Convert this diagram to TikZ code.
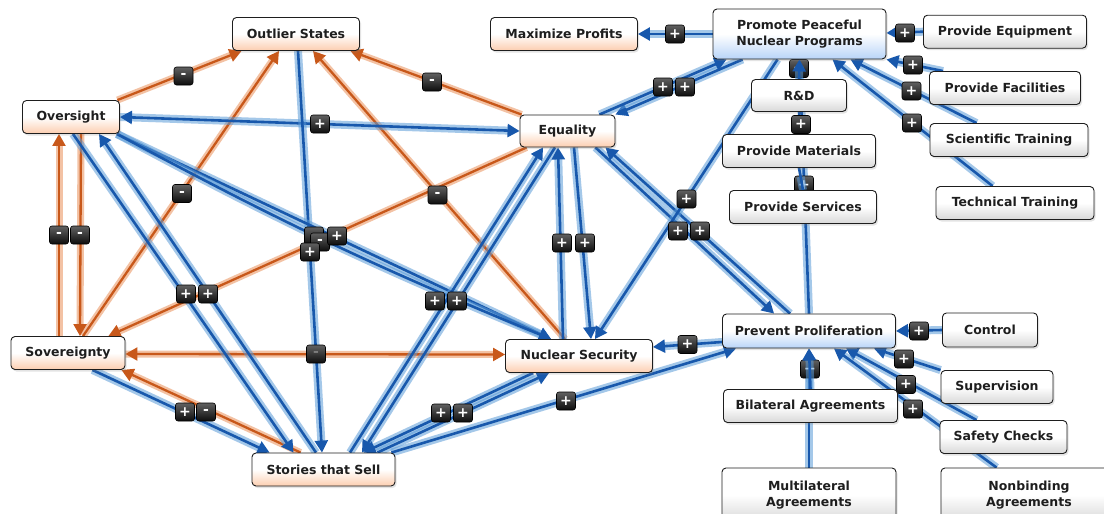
\documentclass[tikz,border=0pt]{standalone}
\usepackage{fontspec}
\setmainfont{DejaVu Sans}
\usetikzlibrary{arrows.meta,shadows,calc}
\pgfdeclarelayer{bg}
\pgfdeclarelayer{edges}
\pgfdeclarelayer{tags}
\pgfdeclarelayer{over}
\pgfsetlayers{bg,edges,tags,over,main}

\definecolor{linkblue}{RGB}{24,88,172}
\definecolor{haloblue}{RGB}{91,155,216}
\definecolor{linkorange}{RGB}{200,88,26}
\definecolor{haloorange}{RGB}{232,134,74}
\definecolor{tintpeach}{RGB}{252,206,176}
\definecolor{tintblue}{RGB}{184,212,248}
\definecolor{tintgray}{RGB}{216,216,216}
\definecolor{inkdark}{RGB}{30,30,30}

\tikzset{
  box/.style={draw=inkdark, line width=0.9pt, rounded corners=4pt,
    minimum height=33pt, inner sep=0pt, align=center,
    font=\fontsize{12.5}{16.5}\selectfont\bfseries, text=inkdark,
    drop shadow={shadow xshift=1.5pt, shadow yshift=-2pt, opacity=0.22},
    top color=white, bottom color=#1, middle color=white},
  box/.default=tintgray,
  blink/.style={draw=linkblue, line width=2.6pt,
    preaction={draw=haloblue, draw opacity=0.55, line width=8pt, arrows=-, shorten >=9pt}},
  olink/.style={draw=linkorange, line width=2.3pt,
    preaction={draw=haloorange, draw opacity=0.5, line width=7pt, arrows=-, shorten >=9pt}},
  sgn/.style={draw=black, line width=0.6pt, rounded corners=2.5pt,
    minimum width=19pt, minimum height=18pt, inner sep=0pt,
    top color=black!62, bottom color=black!95, text=white,
    font=\fontsize{14}{14}\selectfont\bfseries},
}

\begin{document}
\begin{tikzpicture}[x=1pt, y=-1pt, >={Triangle[length=12pt,width=13pt]}]
\useasboundingbox (0,0) rectangle (1104,514);
\begin{pgfonlayer}{bg}
  \fill[white] (0,0) rectangle (1104,514);
\end{pgfonlayer}

% ---- factors ----
\node[box=tintpeach, minimum width=127pt] (out) at (296,34) {Outlier States};
\node[box=tintpeach, minimum width=97pt] (ovs) at (71,117) {Oversight};
\node[box=tintpeach, minimum width=95pt, minimum height=32pt] (eq) at (567.5,131) {Equality};
\node[box=tintpeach, minimum width=147pt] (maxp) at (564,34) {Maximize Profits};
\node[box=tintblue, minimum width=173pt, minimum height=50pt] (ppnp) at (799.5,34) {Promote Peaceful\\Nuclear Programs};
\node[box, minimum width=163pt] (peq) at (1005,31.7) {Provide Equipment};
\node[box, minimum width=95pt, minimum height=32pt] (rd) at (799,95.5) {R\&D};
\node[box, minimum width=151pt] (pfac) at (1005,88) {Provide Facilities};
\node[box, minimum width=153pt] (pmat) at (799,151) {Provide Materials};
\node[box, minimum width=158pt] (sci) at (1009,140) {Scientific Training};
\node[box, minimum width=147pt] (psrv) at (803,207) {Provide Services};
\node[box, minimum width=158pt] (tech) at (1015,203) {Technical Training};
\node[box=tintpeach, minimum width=114pt] (sov) at (68,353) {Sovereignty};
\node[box=tintpeach, minimum width=147pt] (ns) at (579,356) {Nuclear Security};
\node[box=tintblue, minimum width=173pt, minimum height=34pt] (pp) at (809,331) {Prevent Proliferation};
\node[box, minimum width=95pt, minimum height=34pt] (ctl) at (990,330) {Control};
\node[box, minimum width=112pt] (sup) at (997,387) {Supervision};
\node[box, minimum width=174pt] (bil) at (810.5,406) {Bilateral Agreements};
\node[box, minimum width=127pt] (saf) at (1003.5,437) {Safety Checks};
\node[box=tintpeach, minimum width=143pt] (sts) at (323.5,469.5) {Stories that Sell};
\node[box, minimum width=174pt, minimum height=54pt] (mul) at (809,495) {Multilateral\\Agreements};
\node[box, minimum width=176pt, minimum height=54pt] (nonb) at (1029,495) {Nonbinding\\Agreements};

% ---- links ----
\begin{pgfonlayer}{edges}
  % negative links
  \draw[olink,->] ([xshift=-2.5pt]ovs.north east) -- ([xshift=9.5pt]out.south west);
  \draw[olink,->] ([xshift=2pt]eq.north west) -- ([xshift=-9.5pt]out.south east);
  \draw[olink,->] ([xshift=15pt]sov.north) -- ([xshift=-17pt]out.south);
  \draw[olink,->] ([xshift=-14pt]ns.north) -- ([xshift=17pt]out.south);
  \draw[olink,->] ([xshift=-9pt]sov.north) -- ([xshift=-12pt]ovs.south);
  \draw[olink,->] ([xshift=10pt]ovs.south) -- ([xshift=12pt]sov.north);
  \draw[olink,->] ([xshift=7pt]eq.south west) -- ([xshift=-17pt]sov.north east);
  \draw[olink,<->] ([yshift=-1pt]sov.east) -- ([yshift=1.5pt]ns.west);
  \draw[olink,->] ([xshift=49pt]sts.north west) -- ([xshift=-4pt]sov.south east);

  % positive links
  \draw[blink,<->] (ovs.east) -- (eq.west);
  \draw[blink,->] ([xshift=2pt]out.south) -- ([xshift=-1.5pt]sts.north);
  \draw[blink,->] ([xshift=2pt]ovs.south) -- ([xshift=42pt]sts.north west);
  \draw[blink,->] ([xshift=-7.5pt]sts.north) -- ([xshift=28pt]ovs.south);
  \draw[blink,->] ([xshift=-3pt]ovs.south east) -- ([xshift=46pt]ns.north west);
  \draw[blink,->] ([xshift=-3pt]ovs.south east) to[bend right=3] ([xshift=46pt]ns.north west);
  \draw[blink,->] ([xshift=-33pt]sov.south east) -- ([xshift=18pt]sts.north west);
  \draw[blink,->] ([xshift=26.5pt]sts.north) -- ([xshift=-24.5pt]eq.south);
  \draw[blink,->] ([xshift=-12.5pt]eq.south) -- ([xshift=38.5pt]sts.north);
  \draw[blink,->] ([xshift=-18pt]sts.north east) -- ([xshift=44pt]ns.south west);
  \draw[blink,->] ([xshift=28pt]ns.south west) -- ([xshift=40pt]sts.north);
  \draw[blink,->] ([xshift=-4pt]sts.north east) -- ([xshift=14pt]pp.south west);
  \draw[blink,->] ([xshift=-16pt]ns.north) -- ([xshift=-9.5pt]eq.south);
  \draw[blink,->] ([xshift=6.5pt]eq.south) -- ([xshift=12pt]ns.north);
  \draw[blink,->] ([xshift=-20pt]eq.south east) -- ([xshift=52pt]pp.north west);
  \draw[blink,->] ([xshift=68pt]pp.north west) -- ([xshift=-10pt]eq.south east);
  \draw[blink,->] ([xshift=30pt]ppnp.south west) -- (eq.north east);
  \draw[blink,->] ([xshift=-16pt]eq.north east) -- ([xshift=14pt]ppnp.south west);
  \draw[blink,->] ([xshift=-22pt]ppnp.south) -- ([xshift=16pt]ns.north);
  \draw[blink,->] ([yshift=-11pt]pp.west) -- ([yshift=9pt]ns.east);
  \draw[blink,->] (ppnp.west) -- (maxp.east);
  \draw[blink,->] (peq.west) -- ([yshift=1pt]ppnp.east);
  \draw[blink,->] ([xshift=14pt]pfac.north west) -- (ppnp.south east);
  \draw[blink,->] ([xshift=47pt]sci.north west) -- ([xshift=51pt]ppnp.south);
  \draw[blink,->] ([xshift=57pt]tech.north west) -- ([xshift=33pt]ppnp.south);
  \draw[blink,->] (pp.north) -- (ppnp.south);
  \draw[blink] (pmat.north) -- (rd.south);
  \draw[blink,->] (mul.north) -- (pp.south);
  \draw[blink,->] (ctl.west) -- (pp.east);
  \draw[blink,->] (sup.north west) -- ([xshift=-22pt]pp.south east);
  \draw[blink,->] ([xshift=37pt]saf.north west) -- ([xshift=-50pt]pp.south east);
  \draw[blink,->] ([xshift=56pt]nonb.north west) -- ([xshift=-62pt]pp.south east);
\end{pgfonlayer}

% ---- polarity tags ----
\begin{pgfonlayer}{tags}
  \node[sgn] (t1) at (183.5,76) {-};
  \node[sgn] (t2) at (432,82) {-};
  \node[sgn] (t3) at (182,193.5) {-};
  \node[sgn] (t4) at (437.5,195) {-};
  \node[sgn] (t5) at (59,235) {-};
  \node[sgn] (t6) at (80,235) {-};
  \node[sgn] (t7) at (320,124) {+};
  \node[sgn] (t8) at (314,236) {};
  \node[sgn] (t9) at (320,242) {-};
  \node[sgn] (t10) at (337,236) {+};
  \node[sgn] (t11) at (310,252) {+};
  \node[sgn] (t12) at (186,294) {+};
  \node[sgn] (t13) at (208,294) {+};
  \node[sgn] (t14) at (435,301) {+};
  \node[sgn] (t15) at (457,301) {+};
  \node[sgn, text opacity=0.3] (t16) at (316,354) {-};
  \node[sgn] (t17) at (185,412) {+};
  \node[sgn] (t18) at (206,412) {-};
  \node[sgn] (t19) at (441,413) {+};
  \node[sgn] (t20) at (463,413) {+};
  \node[sgn] (t21) at (566,401) {+};
  \node[sgn] (t22) at (687.5,344.5) {+};
  \node[sgn] (t23) at (562,243) {+};
  \node[sgn] (t24) at (585,243) {+};
  \node[sgn] (t25) at (678,231) {+};
  \node[sgn] (t26) at (700,231) {+};
  \node[sgn] (t27) at (663,87) {+};
  \node[sgn] (t28) at (685,87) {+};
  \node[sgn] (t29) at (686.5,199) {+};
  \node[sgn] (t30) at (675,34) {+};
  \node[sgn] (t31) at (905,33) {+};
  \node[sgn] (t32) at (913,65) {+};
  \node[sgn] (t33) at (911.5,91) {+};
  \node[sgn] (t34) at (912,123) {+};
  \node[sgn] (t35) at (799,68.5) {+};
  \node[sgn] (t36) at (801,124.5) {+};
  \node[sgn] (t37) at (804,185) {+};
  \node[sgn] (t38) at (919,331) {+};
  \node[sgn] (t39) at (904,359) {+};
  \node[sgn] (t40) at (906,384.5) {+};
  \node[sgn] (t41) at (913,409) {+};
  \node[sgn] (t42) at (810,369) {+};
\end{pgfonlayer}

% ---- links drawn across their tags ----
\begin{pgfonlayer}{over}
  \draw[blink,->] (rd.north) -- (ppnp.south);
  \draw[blink] (psrv.north) -- (pmat.south);
  \draw[blink,->] (bil.north) -- (pp.south);
\end{pgfonlayer}
\end{tikzpicture}
\end{document}
